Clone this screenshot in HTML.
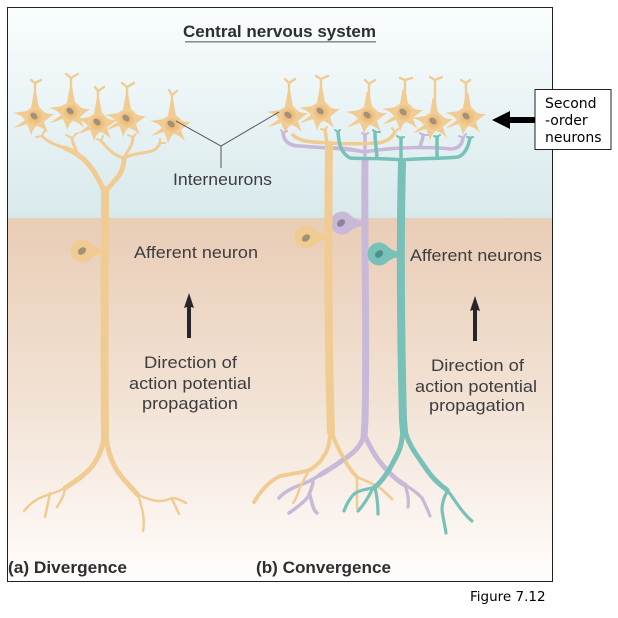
<!DOCTYPE html>
<html>
<head>
<meta charset="utf-8">
<style>
html,body{margin:0;padding:0;background:#fff;width:618px;height:618px;overflow:hidden}
svg{display:block}
.l{font-family:"Liberation Sans",sans-serif;font-size:16.5px;fill:#3d3d40}
.b{font-family:"Liberation Sans",sans-serif;font-size:16.5px;font-weight:bold;fill:#2e2e31}
.d{font-family:"DejaVu Sans",sans-serif;font-size:14px;fill:#000}
.tan{fill:none;stroke:#f0cc93;stroke-linecap:round;stroke-linejoin:round}
.pur{fill:none;stroke:#c8b9d9;stroke-linecap:round;stroke-linejoin:round}
.tea{fill:none;stroke:#77c1b8;stroke-linecap:round;stroke-linejoin:round}
</style>
</head>
<body>
<svg width="618" height="618" viewBox="0 0 618 618" xmlns="http://www.w3.org/2000/svg">
<defs>
<linearGradient id="gt" x1="0" y1="0" x2="0" y2="1"><stop offset="0" stop-color="#fafdfd"/><stop offset="1" stop-color="#d8e9ec"/></linearGradient>
<linearGradient id="gb" x1="0" y1="0" x2="0" y2="1"><stop offset="0" stop-color="#e9cdb6"/><stop offset="0.5" stop-color="#f2e2d4"/><stop offset="1" stop-color="#fffdfc"/></linearGradient>
<radialGradient id="gc"><stop offset="0" stop-color="#e6b26a"/><stop offset="0.7" stop-color="#efc588"/><stop offset="1" stop-color="#f3d29e"/></radialGradient>
<g id="cell">
<path fill="#f0cc93" d="M-3,-12 C-3,-9 -6,-8 -9,-6 C-13,-5 -17,-5 -22,-4 C-17,-3 -13,-1 -10,3 C-14,6 -17,8 -21,11 C-16,10 -12,8 -8,7 C-6,11 -5,14 -4,19 C-3,14 -1,11 2,9 C6,10 9,12 13,16 C11,11 10,8 9,5 C12,2 15,0 19,-3 C15,-3 12,-3 9,-5 C7,-8 4,-9 3,-12 Z"/>
<path fill="#f0cc93" d="M-4,-9 L-1.4,-24 H1.4 L4,-9 Z"/>
<circle r="9.5" fill="url(#gc)"/>
<ellipse cx="-1" cy="-1" rx="4" ry="2.8" transform="rotate(40 -1 -1)" fill="#a39079"/>
</g>
<g id="soma">
<circle cx="0" cy="0" r="11.5"/>
<path d="M7,-9 C12,-5 15,-2 24,-2 V3 C15,3 12,5 7,9 Z"/>
</g>
</defs>

<rect x="7.5" y="7.5" width="545" height="574" fill="#fff"/>
<rect x="8" y="8" width="544" height="210" fill="url(#gt)"/>
<rect x="8" y="218" width="544" height="363" fill="url(#gb)"/>
<rect x="7.5" y="7.5" width="545" height="574" fill="none" stroke="#222" stroke-width="1"/>

<text class="b" x="183" y="37" textLength="193" lengthAdjust="spacingAndGlyphs">Central nervous system</text>
<rect x="185" y="41" width="191" height="1.6" fill="#8e8f94"/>

<!-- left neuron upper tree -->
<g class="tan">
<path stroke-width="8" d="M105,190 C105,260 104,340 105,437"/>
<path stroke-width="5" d="M104,191 C96,172 86,156 65,148"/>
<path stroke-width="3" d="M65,148 C55,145 48,142 42,136 M78,155 C75,147 72,142 72,138"/>
<path stroke-width="2" d="M42,136 L36,137 M42,136 L45,130 M72,138 L66,135 M72,138 L77,133"/>
<path stroke-width="5" d="M106,191 C114,180 124,175 124,158"/>
<path stroke-width="3" d="M124,158 C112,155 108,148 101,141 M124,158 C128,150 133,145 133,137 M124,158 C140,150 155,156 160,143"/>
<path stroke-width="2" d="M101,141 L97,139 M101,141 L103,136 M133,137 L128,135 M133,137 L136,134 M160,143 L165,143 M160,143 L160,139"/>
<path stroke-width="5" d="M104,437 C100,465 85,475 65,488"/>
<path stroke-width="2.5" d="M65,488 C55,495 38,493 24,511 M50,493 C48,503 47,508 45,517 M65,487 C65,495 60,502 57,507"/>
<path stroke-width="5" d="M106,437 C110,470 125,480 138,495"/>
<path stroke-width="2.5" d="M138,495 C150,500 160,504 172,498 C177,498 180,500 186,503 M172,499 L179,514 M138,495 C143,510 145,520 143,531"/>
</g>
<use href="#soma" x="82" y="251" fill="#f0cc93"/>
<ellipse cx="82" cy="251" rx="4.5" ry="3.2" transform="rotate(-40 82 251)" fill="#a39079"/>

<!-- left neuron cells -->
<g class="tan" stroke-width="2.4">
<path d="M35,100 V83 M35,83 L31,80 M35,83 L41,80"/>
<path d="M71,95 V78 M71,78 L66,74 M71,78 L78,74"/>
<path d="M98,106 V91 M98,91 L95,87 M98,91 L104,87"/>
<path d="M127,102 V87 M127,87 L122,83 M127,87 L134,83"/>
<path d="M172,108 V95 M172,95 L169,90 M172,95 L177,91"/>
</g>
<use href="#cell" x="35" y="117"/>
<use href="#cell" x="71" y="112"/>
<use href="#cell" x="98" y="123"/>
<use href="#cell" x="127" y="119"/>
<use href="#cell" x="172" y="125"/>

<!-- right cells -->
<g class="tan" stroke-width="2.4">
<path d="M289,100 V83 M289,83 L285,79 M289,83 L295,79"/>
<path d="M321,96 V79 M321,79 L316,76 M321,79 L328,76"/>
<path d="M369,100 V84 M369,84 L365,80 M369,84 L375,80"/>
<path d="M405,97 V80 M405,80 L400,78 M405,80 L412,78"/>
<path d="M435,106 V80 M435,80 L430,77 M435,80 L442,77"/>
<path d="M466,101 V83 M466,83 L461,80 M466,83 L470,80"/>
</g>
<use href="#cell" x="289" y="116"/>
<use href="#cell" x="321" y="112"/>
<use href="#cell" x="368" y="116"/>
<use href="#cell" x="404" y="113"/>
<use href="#cell" x="434" y="122"/>
<use href="#cell" x="467" y="117"/>

<!-- leaders -->
<path d="M176,121 L221,146 L279,112 M221,146 V168" fill="none" stroke="#555" stroke-width="1"/>

<!-- purple neuron -->
<g class="pur">
<path stroke-width="7" d="M365,160 C364,240 367,340 365,420 L364,438"/>
<path stroke-width="3.5" d="M283,133 C284,142 290,146 300,146 C320,148 345,148 365,152 M365,152 C385,148 425,146 450,149 C458,149 462,145 463,138 M365,156 V135 M420,147 C421,142 423,140 423,135"/>
<path stroke-width="2" d="M283,133 L281,130 M283,133 L287,131 M365,135 L362,133 M365,135 L368,133 M423,135 L420,133 M423,135 L428,135 M463,138 L459,136 M463,138 L466,134"/>
<path stroke-width="5" d="M364,436 C360,448 352,454 343,460 C335,466 328,470 320,475"/>
<path stroke-width="3.5" d="M320,475 C312,480 306,483 300,485 C292,488 284,492 279,498 M313,482 C312,488 310,492 308,497 C302,504 295,509 289,513 M310,495 C312,503 313,510 317,513"/>
<path stroke-width="5" d="M365,436 C368,442 372,452 380,462 C388,472 396,480 405,485"/>
<path stroke-width="3.2" d="M405,485 C414,490 418,494 422,498 C425,504 428,510 430,516 M405,485 C408,494 409,500 408,507"/>
</g>
<use href="#soma" x="342" y="223" fill="#c8b9d9"/>
<ellipse cx="341" cy="223" rx="4.5" ry="3.2" transform="rotate(-40 341 223)" fill="#8f8198"/>

<!-- tan neuron b -->
<g class="tan">
<path stroke-width="8" d="M329,145 C328,240 328,340 331,432"/>
<path stroke-width="3.6" d="M293,135 C300,142 312,142 329,143 C345,144 365,144 378,143 C386,142 392,138 395,132 M327,143 C326,138 326,134 325,130"/>
<path stroke-width="2" d="M395,132 L392,128 M395,132 L398,129 M325,130 L321,129 M325,130 L327,127"/>
<path stroke-width="4" d="M330,432 C330,445 327,452 323,457 C319,465 312,468 310,470 C300,473 290,474 280,476 C268,482 260,492 254,502"/>
<path stroke-width="2.4" d="M308,472 C305,478 302,483 300,487 C298,494 296,499 293,503"/>
<path stroke-width="4" d="M332,433 C335,442 339,450 343,457 C347,465 352,472 357,477"/>
<path stroke-width="2.6" d="M357,477 C366,481 374,484 380,488 C385,492 389,496 392,499 M357,477 C357,487 357,498 357,508"/>
</g>
<use href="#soma" x="306" y="237" fill="#f0cc93"/>
<ellipse cx="306" cy="238" rx="4.5" ry="3.2" transform="rotate(-40 306 238)" fill="#a39079"/>

<!-- purple overlap on tan -->
<g class="pur">
<path stroke-width="4.5" d="M343,460 C335,466 328,470 320,475"/>
<path stroke-width="3.5" d="M365,152 C350,149 345,148 335,148"/>
</g>

<!-- teal neuron -->
<g class="tea">
<path stroke-width="8" d="M402,163 C400,240 401,340 403,420 L404,432"/>
<path stroke-width="3.5" d="M338,132 C339,145 341,153 350,158 C365,159 385,158 402,160 C420,158 440,159 458,157 C464,155 468,148 470,138 M377,157 C376,148 375,140 375,132 M401,160 V138 M437,158 V137"/>
<path stroke-width="2" d="M338,132 L335,130 M338,132 L340,130 M375,132 L373,130 M375,132 L380,132 M400,138 L397,136 M400,138 L404,137 M437,137 L434,136 M437,137 L440,135 M470,138 L467,137 M470,138 L473,137"/>
<path stroke-width="5" d="M403,430 C402,440 401,447 398,453 C394,461 391,467 387,473 C383,479 379,484 375,487"/>
<path stroke-width="3.2" d="M375,487 C365,490 358,490 353,495 C349,500 346,505 344,511 M373,488 C369,496 364,505 358,511 M375,488 C377,496 378,505 378,514"/>
<path stroke-width="5" d="M405,430 C408,445 419,458 427,470 C433,479 440,485 447,490"/>
<path stroke-width="3.2" d="M447,490 C454,498 461,512 472,521 M447,492 C444,497 442,503 442,510 C443,518 445,526 446,533"/>
</g>
<use href="#soma" x="379" y="254" fill="#77c1b8"/>
<ellipse cx="379" cy="254" rx="4.5" ry="3.2" transform="rotate(-40 379 254)" fill="#4f8f8b"/>

<!-- black arrows -->
<path fill="#26262a" d="M189,293 L194,308 L191,307 V338 H187 V307 L184,308 Z"/>
<path fill="#26262a" d="M475,296 L480,311 L477,310 V341 H473 V310 L470,311 Z"/>

<!-- labels -->
<text class="l" x="173" y="185" textLength="99" lengthAdjust="spacingAndGlyphs">Interneurons</text>
<text class="l" x="134" y="258" textLength="124" lengthAdjust="spacingAndGlyphs">Afferent neuron</text>
<text class="l" x="144" y="368" textLength="93" lengthAdjust="spacingAndGlyphs">Direction of</text>
<text class="l" x="129" y="389" textLength="122" lengthAdjust="spacingAndGlyphs">action potential</text>
<text class="l" x="142" y="409" textLength="96" lengthAdjust="spacingAndGlyphs">propagation</text>
<text class="l" x="410" y="261" textLength="132" lengthAdjust="spacingAndGlyphs">Afferent neurons</text>
<text class="l" x="431" y="371" textLength="93" lengthAdjust="spacingAndGlyphs">Direction of</text>
<text class="l" x="415" y="392" textLength="122" lengthAdjust="spacingAndGlyphs">action potential</text>
<text class="l" x="429" y="411" textLength="96" lengthAdjust="spacingAndGlyphs">propagation</text>
<text class="b" x="8" y="573" textLength="119" lengthAdjust="spacingAndGlyphs">(a) Divergence</text>
<text class="b" x="256" y="573" textLength="135" lengthAdjust="spacingAndGlyphs">(b) Convergence</text>

<!-- annotation -->
<rect x="535" y="89.5" width="76" height="60" fill="#fff" stroke="#222" stroke-width="1"/>
<text class="d" x="545" y="108">Second</text>
<text class="d" x="545" y="125">-order</text>
<text class="d" x="545" y="142">neurons</text>
<path fill="#000" d="M492,120 L510,111 V117 H535 V123 H510 V129 Z"/>
<text class="d" x="470" y="601" style="font-size:13.5px">Figure 7.12</text>
</svg>
</body>
</html>
